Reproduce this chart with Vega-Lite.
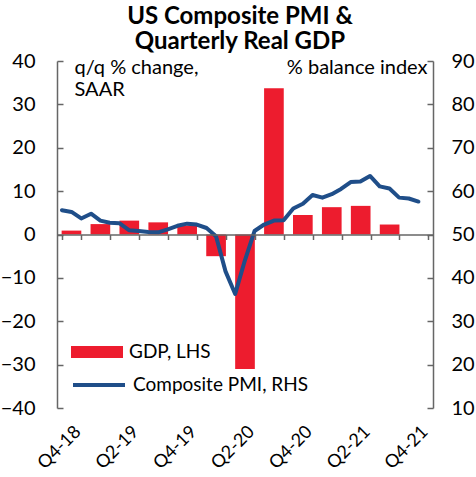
{
  "$schema": "https://vega.github.io/schema/vega-lite/v6.json",
  "width": 376,
  "height": 347,
  "autosize": {"type": "none"},
  "padding": {"left": 57, "top": 61, "right": 43, "bottom": 69},
  "background": "white",
  "config": {"font": "Lato", "view": {"stroke": null}},
  "title": {
    "text": ["US Composite PMI &", "Quarterly Real GDP"],
    "font": "Lato",
    "fontSize": 24,
    "fontWeight": "bold",
    "color": "#000000",
    "anchor": "middle",
    "lineHeight": 25,
    "offset": 0,
    "dx": -5,
    "dy": 3
  },
  "datasets": {
    "gdp": [
      {"quarter": "Q4-18", "gdp": 0.9},
      {"quarter": "Q1-19", "gdp": 2.4},
      {"quarter": "Q2-19", "gdp": 3.2},
      {"quarter": "Q3-19", "gdp": 2.8},
      {"quarter": "Q4-19", "gdp": 2.1},
      {"quarter": "Q1-20", "gdp": -5.0},
      {"quarter": "Q2-20", "gdp": -31.0},
      {"quarter": "Q3-20", "gdp": 33.7},
      {"quarter": "Q4-20", "gdp": 4.5},
      {"quarter": "Q1-21", "gdp": 6.3},
      {"quarter": "Q2-21", "gdp": 6.6},
      {"quarter": "Q3-21", "gdp": 2.3},
      {"quarter": "Q4-21", "gdp": null}
    ],
    "pmi": [
      {"month": "2018-10-01", "pmi": 55.6},
      {"month": "2018-11-01", "pmi": 55.2},
      {"month": "2018-12-01", "pmi": 53.7},
      {"month": "2019-01-01", "pmi": 54.8},
      {"month": "2019-02-01", "pmi": 53.2},
      {"month": "2019-03-01", "pmi": 52.7},
      {"month": "2019-04-01", "pmi": 52.6},
      {"month": "2019-05-01", "pmi": 51.0},
      {"month": "2019-06-01", "pmi": 50.8},
      {"month": "2019-07-01", "pmi": 50.6},
      {"month": "2019-08-01", "pmi": 50.5},
      {"month": "2019-09-01", "pmi": 51.2},
      {"month": "2019-10-01", "pmi": 52.0},
      {"month": "2019-11-01", "pmi": 52.5},
      {"month": "2019-12-01", "pmi": 52.3},
      {"month": "2020-01-01", "pmi": 51.5},
      {"month": "2020-02-01", "pmi": 49.6},
      {"month": "2020-03-01", "pmi": 41.5},
      {"month": "2020-04-01", "pmi": 36.3},
      {"month": "2020-05-01", "pmi": 44.0},
      {"month": "2020-06-01", "pmi": 50.8},
      {"month": "2020-07-01", "pmi": 52.3},
      {"month": "2020-08-01", "pmi": 53.2},
      {"month": "2020-09-01", "pmi": 53.3},
      {"month": "2020-10-01", "pmi": 56.0},
      {"month": "2020-11-01", "pmi": 57.1},
      {"month": "2020-12-01", "pmi": 59.1},
      {"month": "2021-01-01", "pmi": 58.5},
      {"month": "2021-02-01", "pmi": 59.3},
      {"month": "2021-03-01", "pmi": 60.5},
      {"month": "2021-04-01", "pmi": 62.1},
      {"month": "2021-05-01", "pmi": 62.2},
      {"month": "2021-06-01", "pmi": 63.5},
      {"month": "2021-07-01", "pmi": 61.1},
      {"month": "2021-08-01", "pmi": 60.6},
      {"month": "2021-09-01", "pmi": 58.5},
      {"month": "2021-10-01", "pmi": 58.3},
      {"month": "2021-11-01", "pmi": 57.6}
    ]
  },
  "layer": [
    {
      "data": {"name": "gdp"},
      "mark": {"type": "bar"},
      "encoding": {
        "x": {
          "field": "quarter",
          "type": "ordinal",
          "sort": null,
          "scale": {
            "domain": ["Q4-18", "Q1-19", "Q2-19", "Q3-19", "Q4-19", "Q1-20", "Q2-20", "Q3-20", "Q4-20", "Q1-21", "Q2-21", "Q3-21", "Q4-21"],
            "paddingInner": 0.32,
            "paddingOuter": 0.16
          },
          "axis": {
            "title": null,
            "offset": -173.5,
            "tickBand": "extent",
            "domainColor": "#666666",
            "domainWidth": 1.5,
            "tickColor": "#666666",
            "tickWidth": 1.5,
            "tickSize": 5,
            "labelAngle": -45,
            "labelFontSize": 18,
            "labelColor": "#000000",
            "labelPadding": 183,
            "labelOverlap": false,
            "labelExpr": "indexof(['Q4-18','Q2-19','Q4-19','Q2-20','Q4-20','Q2-21','Q4-21'], datum.value) >= 0 ? datum.value : ''",
            "zindex": 1
          }
        },
        "y": {
          "field": "gdp",
          "type": "quantitative",
          "scale": {"domain": [-40, 40], "nice": false, "zero": false},
          "axis": {
            "title": ["q/q % change,", "SAAR"],
            "titleAngle": 0,
            "titleAlign": "left",
            "titleBaseline": "alphabetic",
            "titleX": 17,
            "titleY": 12,
            "titleFontSize": 20,
            "titleFontWeight": "normal",
            "titleColor": "#000000",
            "titleLineHeight": 22,
            "values": [-40, -30, -20, -10, 0, 10, 20, 30, 40],
            "grid": false,
            "tickSize": -6,
            "tickColor": "#666666",
            "tickWidth": 1.5,
            "domainColor": "#666666",
            "domainWidth": 1.5,
            "labelFontSize": 20,
            "labelColor": "#000000",
            "labelPadding": 28
          }
        },
        "fill": {
          "datum": "GDP, LHS",
          "scale": {"range": ["#ED1C2E"]},
          "legend": {
            "orient": "none",
            "legendX": 14,
            "legendY": 265,
            "title": null,
            "padding": 0,
            "symbolType": "M-1,-0.23H1V0.23H-1Z",
            "symbolSize": 2704,
            "symbolStrokeWidth": 0,
            "labelFontSize": 19,
            "labelColor": "#000000",
            "labelOffset": 6,
            "labelLimit": 400
          }
        }
      }
    },
    {
      "data": {"name": "pmi"},
      "mark": {"type": "line", "strokeWidth": 4, "strokeCap": "round", "strokeJoin": "round"},
      "encoding": {
        "x": {
          "field": "month",
          "type": "temporal",
          "timeUnit": "utcyearmonth",
          "bandPosition": 0.5,
          "scale": {
            "type": "utc",
            "domain": [
              {"year": 2018, "month": 10, "date": 1, "utc": true},
              {"year": 2022, "month": 1, "date": 1, "utc": true}
            ]
          },
          "axis": null
        },
        "y": {
          "field": "pmi",
          "type": "quantitative",
          "scale": {"domain": [10, 90], "nice": false, "zero": false},
          "axis": {
            "orient": "right",
            "title": "% balance index",
            "titleAngle": 0,
            "titleAlign": "right",
            "titleBaseline": "alphabetic",
            "titleX": -6,
            "titleY": 12,
            "titleFontSize": 20,
            "titleFontWeight": "normal",
            "titleColor": "#000000",
            "values": [10, 20, 30, 40, 50, 60, 70, 80, 90],
            "grid": false,
            "tickSize": -6,
            "tickColor": "#666666",
            "tickWidth": 1.5,
            "domainColor": "#666666",
            "domainWidth": 1.5,
            "labelFontSize": 20,
            "labelColor": "#000000",
            "labelPadding": 24
          }
        },
        "stroke": {
          "datum": "Composite PMI, RHS",
          "scale": {"range": ["#1F4E89"]},
          "legend": {
            "orient": "none",
            "legendX": 14,
            "legendY": 296,
            "title": null,
            "padding": 0,
            "symbolType": "stroke",
            "symbolSize": 2704,
            "symbolStrokeWidth": 4,
            "labelFontSize": 19,
            "labelColor": "#000000",
            "labelOffset": 6,
            "labelLimit": 400
          }
        }
      }
    }
  ],
  "resolve": {"scale": {"x": "independent", "y": "independent"}}
}
